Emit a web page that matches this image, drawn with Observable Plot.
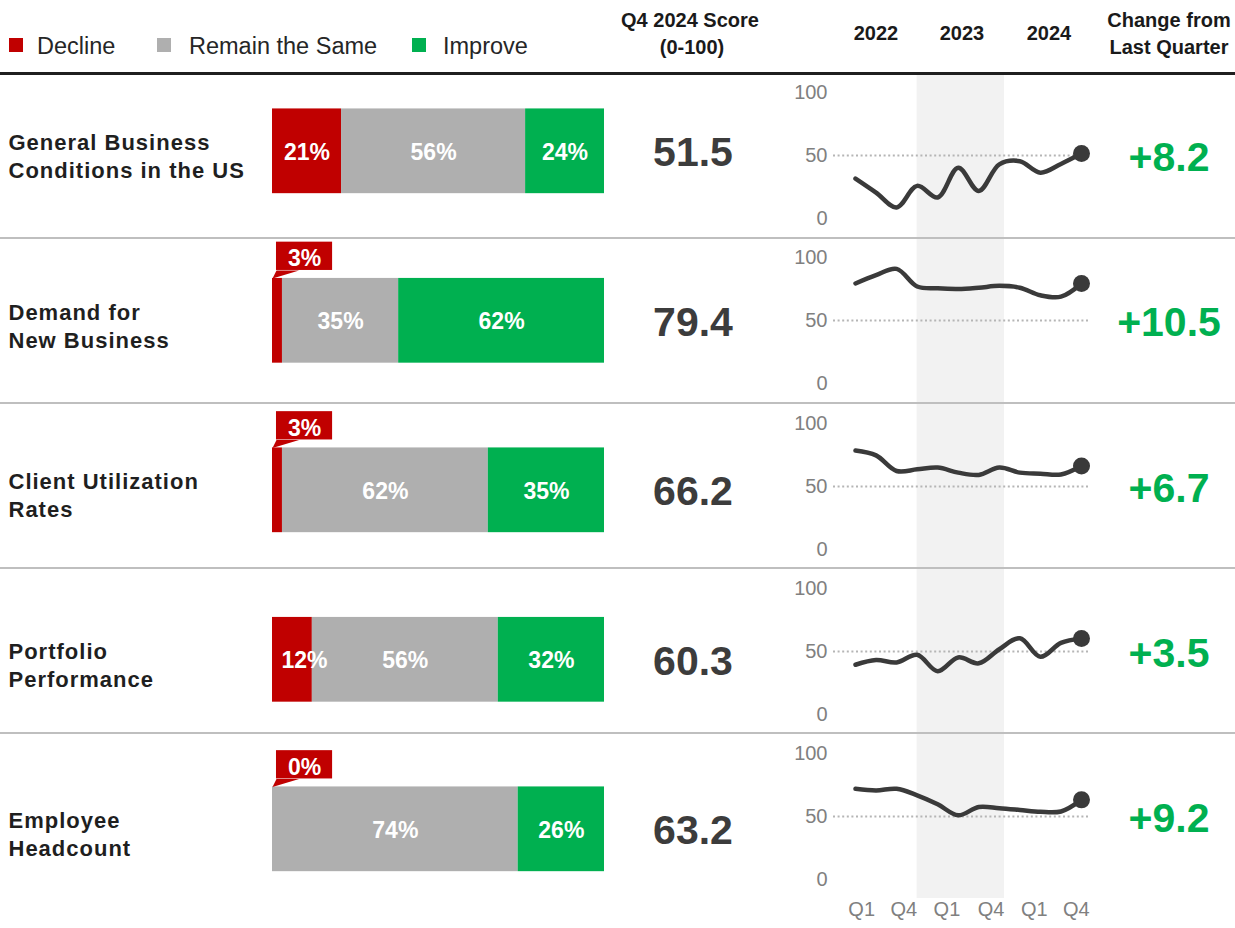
<!DOCTYPE html>
<html>
<head>
<meta charset="utf-8">
<script src="https://cdn.jsdelivr.net/npm/d3@7"></script>
<script src="https://cdn.jsdelivr.net/npm/@observablehq/plot@0.6"></script>
<style>
  html, body { margin: 0; padding: 0; background: #fff; }
  #chart { position: relative; width: 1235px; height: 928px; overflow: hidden;
           font-family: "Liberation Sans", Arial, sans-serif; background: #fff; }
  .layer { position: absolute; }
</style>
</head>
<body>
<div id="chart"></div>
<script>
// ---------------- DATA ----------------
const categories = ["Decline", "Remain the Same", "Improve"];
const categoryColors = ["#c00000", "#afafaf", "#00b050"];
const rowLabels = [
  "General Business\nConditions in the US",
  "Demand for\nNew Business",
  "Client Utilization\nRates",
  "Portfolio\nPerformance",
  "Employee\nHeadcount"
];
const declinePct = [21, 3, 3, 12, 0];
const remainPct  = [56, 35, 62, 56, 74];
const improvePct = [24, 62, 35, 32, 26];
const q4Scores = [51.5, 79.4, 66.2, 60.3, 63.2];
const changeFromLastQuarter = [8.2, 10.5, 6.7, 3.5, 9.2];

const quarters = ["2022 Q1","2022 Q2","2022 Q3","2022 Q4","2023 Q1","2023 Q2","2023 Q3","2023 Q4","2024 Q1","2024 Q2","2024 Q3","2024 Q4"];
const trendGeneral     = [31.7, 20.6, 8.8, 25.9, 16.7, 40.3, 21.9, 43.0, 45.5, 36.4, 43.3, 51.5];
const trendDemand      = [79.4, 86.0, 91.0, 77.0, 75.5, 75.0, 76.0, 77.5, 76.0, 70.0, 68.9, 79.4];
const trendUtilization = [78.6, 74.7, 62.3, 63.6, 65.0, 61.0, 59.2, 65.0, 61.0, 60.2, 59.5, 66.2];
const trendPortfolio   = [39.5, 43.2, 41.3, 47.4, 34.3, 45.3, 40.6, 51.8, 60.5, 45.8, 56.8, 60.3];
const trendHeadcount   = [72.0, 70.7, 72.0, 66.8, 59.7, 51.0, 57.6, 56.6, 55.2, 53.7, 54.0, 63.2];
const trends = [trendGeneral, trendDemand, trendUtilization, trendPortfolio, trendHeadcount];

const yearLabels = ["2022", "2023", "2024"];
const quarterTickLabels = ["Q1", "Q4", "Q1", "Q4", "Q1", "Q4"];
const scoreAxisTicks = [0, 50, 100];

// ---------------- LAYOUT ----------------
const FONT = "Liberation Sans, Arial, sans-serif";
const chart = document.getElementById("chart");
const rowCount = rowLabels.length;
const shadedSpan = [3.0, 7.25];                 // 2023 band, in quarter-index units
const quarterTickPos = [0.3, 2.35, 4.45, 6.6, 8.7, 10.75];
const yearLabelX = [876, 962, 1049];

function addText(txt, x, yc, size, weight, anchor, color, extra) {
  const el = document.createElement("div");
  el.textContent = txt;
  Object.assign(el.style, {
    position: "absolute", left: x + "px", top: (yc - 0.4885 * size) + "px",
    fontSize: size + "px", fontWeight: weight, lineHeight: "1", whiteSpace: "nowrap",
    color: color, zIndex: 3
  }, extra || {});
  if (anchor === "middle") el.style.transform = "translateX(-50%)";
  chart.appendChild(el);
  return el;
}
function addBox(x, y, w, h, color, z) {
  const el = document.createElement("div");
  Object.assign(el.style, {position: "absolute", left: x + "px", top: y + "px", width: w + "px", height: h + "px", background: color, zIndex: z || 3});
  chart.appendChild(el);
}
function place(svg, left, top, w, h, z) {
  const wrap = document.createElement("div");
  wrap.className = "layer";
  Object.assign(wrap.style, {left: left + "px", top: top + "px", width: w + "px", height: h + "px", zIndex: z || 1});
  wrap.appendChild(svg);
  chart.appendChild(wrap);
}

// ---------------- HEADER ----------------
const legendSquareX = [9, 157, 412];
const legendTextX = [37, 189, 443];
categories.forEach((c, i) => {
  addBox(legendSquareX[i], 38, 14, 14, categoryColors[i]);
  addText(c, legendTextX[i], 46, 23.5, "normal", "start", "#262626");
});
addText("Q4 2024 Score", 690, 20, 20, "bold", "middle", "#1a1a1a");
addText("(0-100)", 692, 47, 20, "bold", "middle", "#1a1a1a");
yearLabels.forEach((y, i) => addText(y, yearLabelX[i], 33, 20, "bold", "middle", "#1a1a1a"));
addText("Change from", 1169, 20, 20, "bold", "middle", "#1a1a1a");
addText("Last Quarter", 1169, 47, 20, "bold", "middle", "#1a1a1a");
addBox(0, 72, 1235, 2.5, "#1f1f1f", 4);
[237, 402, 567, 732].forEach(y => addBox(0, y, 1235, 2, "#bfbfbf", 4));

// ---------------- BARS (left table) ----------------
const segments = [];
const barLabels = [];
const callouts = [];
const calloutTail = [];
for (let r = 0; r < rowCount; r++) {
  const vals = [declinePct[r], remainPct[r], improvePct[r]];
  const total = d3.sum(vals);
  let cum = 0;
  vals.forEach((v, k) => {
    const x1 = cum / total, x2 = (cum + v) / total;
    cum += v;
    segments.push({row: r, cat: categories[k], x1, x2});
    if (k === 0 && v < 5) {
      callouts.push({row: r, label: v + "%"});
      calloutTail.push({row: r, x: 0, y: r - 0.25}, {row: r, x: 0.012, y: r - 0.297}, {row: r, x: 0.08, y: r - 0.297});
    } else {
      const mid = (x1 + x2) / 2;
      barLabels.push({row: r, label: v + "%", x: k === 0 ? Math.max(mid, 0.0964) : mid});
    }
  });
}
const rowsData = rowLabels.map((label, i) => ({row: i, label, score: q4Scores[i].toFixed(1)}));

const barPlot = Plot.plot({
  width: 780, height: 928,
  marginTop: 0, marginBottom: 0, marginLeft: 0, marginRight: 0,
  style: {background: "transparent", fontFamily: FONT, overflow: "visible"},
  x: {domain: [0, 1], range: [272, 604], axis: null},
  y: {domain: [0, rowCount - 1], range: [150.8, 828.8], axis: null},
  color: {domain: categories, range: categoryColors},
  marks: [
    Plot.rect(segments, {x1: "x1", x2: "x2", y1: d => d.row - 0.25, y2: d => d.row + 0.25, fill: "cat"}),
    Plot.text(barLabels, {x: "x", y: "row", text: "label", fill: "white", fontSize: 23, fontWeight: "bold", dy: 1}),
    Plot.line(calloutTail, {x: "x", y: "y", z: "row", fill: categoryColors[0], stroke: "none"}),
    Plot.rect(callouts, {x1: 0.012, x2: 0.181, y1: d => d.row - 0.464, y2: d => d.row - 0.297, fill: categoryColors[0]}),
    Plot.text(callouts, {x: 0.0964, y: d => d.row - 0.365, text: "label", fill: "white", fontSize: 23, fontWeight: "bold"}),
    Plot.text(rowsData, {y: "row", frameAnchor: "left", dx: 8, dy: 4, textAnchor: "start", text: "label",
      fontSize: 22, fontWeight: "bold", fill: "#1f1f1f", lineHeight: 1.27}),
    Plot.text(rowsData, {y: "row", frameAnchor: "left", dx: 692.5, dy: 2, textAnchor: "middle", text: "score",
      fontSize: 41, fontWeight: "bold", fill: "#3c3c3c"})
  ]
});
d3.select(barPlot).selectAll('g[font-size="22"] text').attr("letter-spacing", "1px");
place(barPlot, 0, 0, 780, 928, 1);

// ---------------- SPARKLINES ----------------
for (let r = 0; r < rowCount; r++) {
  const top = Math.round(73 + r * 165.25);
  const nextTop = r < rowCount - 1 ? Math.round(73 + (r + 1) * 165.25) : 928;
  const h = nextTop - top;
  const last = r === rowCount - 1;
  const series = trends[r].map((v, i) => ({q: quarters[i], i, v}));
  const marks = [
    Plot.rect([shadedSpan], {x1: d => d[0], x2: d => d[1], fill: "#f2f2f2"}),
    Plot.ruleY([50], {stroke: "#b5b5b5", strokeWidth: 2, strokeDasharray: "2,2.6"}),
    Plot.text(scoreAxisTicks, {y: d => d, text: d => String(d), frameAnchor: "left", dx: -6, textAnchor: "end", fontSize: 20, fill: "#808080"}),
    Plot.line(series, {x: "i", y: "v", curve: "catmull-rom", stroke: "#3a3a3a", strokeWidth: 4.5, strokeLinecap: "round"}),
    Plot.dot(series.slice(-1), {x: "i", y: "v", r: 8.5, fill: "#3a3a3a"}),
    Plot.text([changeFromLastQuarter[r]], {y: 50, frameAnchor: "right", dx: 78.5, dy: 2, text: d => "+" + d.toFixed(1),
      fontSize: 41, fontWeight: "bold", fill: "#00b050", textAnchor: "middle"})
  ];
  if (last) {
    marks.push(Plot.text(quarterTickPos.map((p, k) => ({p, label: quarterTickLabels[k]})),
      {x: "p", text: "label", frameAnchor: "bottom", dy: 17, fontSize: 20, fill: "#808080"}));
  }
  const spark = Plot.plot({
    width: 455, height: h,
    marginTop: 0, marginBottom: last ? 30 : 0, marginLeft: 53, marginRight: 145,
    style: {background: "transparent", fontFamily: FONT, overflow: "visible"},
    x: {domain: [0, 11], insetLeft: 22, insetRight: 9, axis: null},
    y: {domain: [0, 100], range: [145, 19], axis: null},
    marks
  });
  place(spark, 780, top, 455, h, 1);
}
</script>
</body>
</html>
